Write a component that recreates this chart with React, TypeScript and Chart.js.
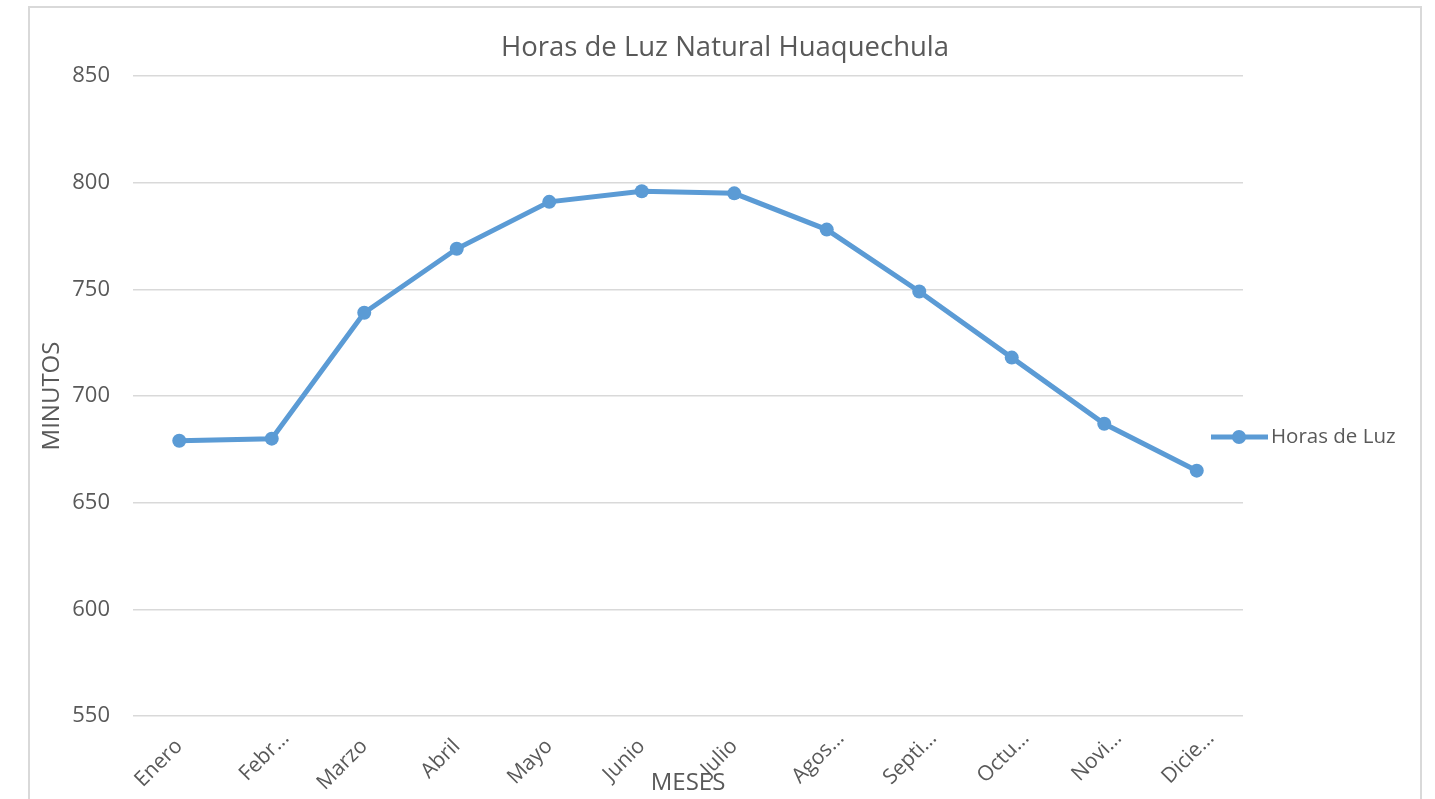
import React, { useEffect, useRef } from "react";
import { Chart, registerables } from "chart.js";

Chart.register(...registerables);

const months = ["Enero", "Febr…", "Marzo", "Abril", "Mayo", "Junio", "Julio", "Agos…", "Septi…", "Octu…", "Novi…", "Dicie…"];
const minutes = [679, 680, 739, 769, 791, 796, 795, 778, 749, 718, 687, 665];
const seriesName = "Horas de Luz";
const chartTitle = "Horas de Luz Natural Huaquechula";
const yTitle = "MINUTOS";
const xTitle = "MESES";

const BLUE = "#5B9BD5";
const TEXT = "#595959";
const GRID = "#d9d9d9";
const FONT = "'Open Sans', sans-serif";

// Excel places truncated (…) rotated labels slightly further along the text direction
const truncatedLabelShift = {
  id: "truncatedLabelShift",
  beforeDraw(chart: any) {
    const scale = chart.scales.x;
    if (!scale || typeof scale.getLabelItems !== "function") return;
    const items = scale.getLabelItems(chart.chartArea);
    for (const item of items) {
      if (item.__shifted) continue;
      item.__shifted = true;
      const label = String(item.label);
      const t = item.options && item.options.translation;
      if (!t) continue;
      if (label.endsWith("…")) {
        t[0] += 14;
        t[1] -= 4;
      } else {
        t[1] += 4;
      }
    }
  },
};

const legendPlugin = {
  id: "excelLegend",
  afterDraw(chart: any) {
    const ctx = chart.ctx;
    const area = chart.chartArea;
    const ds = chart.data.datasets[0];
    const cx = area.right - 1;
    const cy = 437;
    ctx.save();
    ctx.strokeStyle = BLUE;
    ctx.lineWidth = 5;
    ctx.lineCap = "butt";
    ctx.beginPath();
    ctx.moveTo(cx - 31, cy);
    ctx.lineTo(cx + 26, cy);
    ctx.stroke();
    ctx.fillStyle = BLUE;
    ctx.beginPath();
    ctx.arc(cx - 3, cy, 7, 0, Math.PI * 2);
    ctx.fill();
    ctx.fillStyle = TEXT;
    ctx.font = `20.5px ${FONT}`;
    ctx.textBaseline = "middle";
    ctx.textAlign = "left";
    ctx.fillText(ds.label, cx + 29, cy);
    ctx.restore();
  },
};

export default function App() {
  const ref = useRef<HTMLCanvasElement>(null);
  useEffect(() => {
    document.body.style.overflow = "hidden";
    const chart = new Chart(ref.current!, {
      type: "line",
      data: {
        labels: months,
        datasets: [
          {
            label: seriesName,
            data: minutes,
            borderColor: BLUE,
            backgroundColor: BLUE,
            borderWidth: 5,
            pointRadius: 7,
            pointHoverRadius: 7,
            pointBorderWidth: 0,
            pointBackgroundColor: BLUE,
            tension: 0,
          },
        ],
      },
      plugins: [truncatedLabelShift, legendPlugin],
      options: {
        responsive: false,
        animation: false,
        devicePixelRatio: 1,
        layout: { padding: { left: 30, right: 15, top: 8, bottom: 0 } },
        plugins: {
          legend: { display: false },
          tooltip: { enabled: false },
          title: {
            display: true,
            text: chartTitle,
            color: TEXT,
            font: { family: FONT, size: 27.5, weight: "normal" },
            padding: { top: 24, bottom: 11 },
          },
        },
        scales: {
          x: {
            offset: true,
            grid: { display: false, drawTicks: false },
            border: { display: false },
            ticks: {
              color: TEXT,
              font: { family: FONT, size: 21 },
              minRotation: 45,
              maxRotation: 45,
              padding: 14,
              autoSkip: false,
            },
            title: {
              display: true,
              text: xTitle,
              color: TEXT,
              font: { family: FONT, size: 24 },
              padding: { top: 0, bottom: 1 },
            },
            afterFit: (s: any) => {
              s.height = 83;
            },
          },
          y: {
            min: 550,
            max: 850,
            grid: { color: GRID, lineWidth: 1.5, drawTicks: false },
            border: { display: false },
            ticks: {
              stepSize: 50,
              color: TEXT,
              font: { family: FONT, size: 22 },
              padding: 23,
            },
            title: {
              display: true,
              text: yTitle,
              color: TEXT,
              font: { family: FONT, size: 24 },
              padding: { top: 8, bottom: 0 },
            },
            afterFit: (s: any) => {
              s.width = 103;
            },
          },
          yRight: {
            position: "right",
            display: true,
            grid: { display: false, drawTicks: false },
            border: { display: false },
            ticks: { display: false },
            afterFit: (s: any) => {
              s.width = 177;
            },
          },
        },
      },
    });
    return () => chart.destroy();
  }, []);

  return (
    <div>
      <div
        style={{
          position: "fixed",
          left: 28,
          top: 6,
          width: 1394,
          height: 900,
          border: "2px solid #d9d9d9",
          boxSizing: "border-box",
        }}
      />
      <canvas
        ref={ref}
        width={1435}
        height={799}
        style={{ position: "fixed", left: 0, top: 0, display: "block" }}
      />
    </div>
  );
}
